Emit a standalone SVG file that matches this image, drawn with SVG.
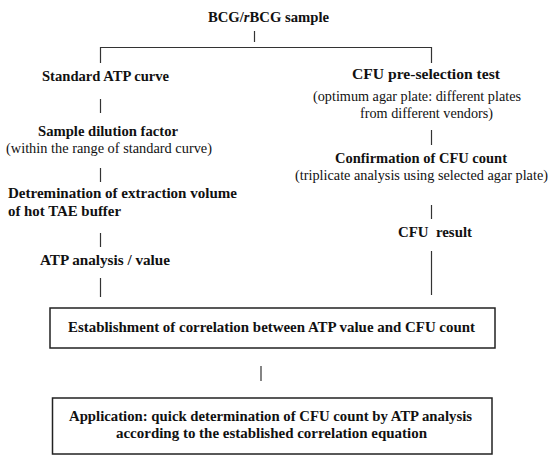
<svg xmlns="http://www.w3.org/2000/svg" width="550" height="463" viewBox="0 0 550 463">
<style>
text{font-family:"Liberation Serif","Times New Roman",serif;font-size:13.6px;fill:#111;}
.b{font-weight:bold;}
.c line,.c path{stroke:#333;stroke-width:1.2;fill:none;}
.box{fill:#fff;stroke:#222;stroke-width:1.5;}
</style>
<rect width="550" height="463" fill="#fff"/>
<g class="c" id="connectors">
<line x1="254.5" y1="31" x2="254.5" y2="42"/>
<path d="M100.5 63 V47.5 H431.5 V63"/>
<line x1="100.5" y1="99" x2="100.5" y2="113"/>
<line x1="100.5" y1="168" x2="100.5" y2="182"/>
<line x1="100.5" y1="233" x2="100.5" y2="247"/>
<line x1="100.5" y1="278" x2="100.5" y2="297"/>
<line x1="431.5" y1="130" x2="431.5" y2="145"/>
<line x1="431.5" y1="205" x2="431.5" y2="219"/>
<line x1="431.5" y1="251" x2="431.5" y2="295"/>
<line x1="261" y1="366" x2="261" y2="381"/>
</g>
<g id="sample"><text class="b" x="208" y="21.5" textLength="121" lengthAdjust="spacingAndGlyphs">BCG/<tspan font-style="italic">r</tspan>BCG sample</text></g>
<g id="standard-atp"><text class="b" x="42" y="81" textLength="127" lengthAdjust="spacingAndGlyphs">Standard ATP curve</text></g>
<g id="dilution">
<text class="b" x="38" y="136" textLength="140" lengthAdjust="spacingAndGlyphs">Sample dilution factor</text>
<text x="6" y="153" textLength="206" lengthAdjust="spacingAndGlyphs">(within the range of standard curve)</text>
</g>
<g id="extraction">
<text class="b" x="8" y="198" textLength="229" lengthAdjust="spacingAndGlyphs">Detremination of extraction volume</text>
<text class="b" x="8" y="216" textLength="113" lengthAdjust="spacingAndGlyphs">of hot TAE buffer</text>
</g>
<g id="atp-value"><text class="b" x="40" y="265" textLength="130" lengthAdjust="spacingAndGlyphs">ATP analysis / value</text></g>
<g id="cfu-preselection">
<text class="b" x="352" y="79" style="font-size:14.6px" textLength="148" lengthAdjust="spacingAndGlyphs">CFU pre-selection test</text>
<text x="313" y="101" textLength="208" lengthAdjust="spacingAndGlyphs">(optimum agar plate: different plates</text>
<text x="360" y="118" textLength="133" lengthAdjust="spacingAndGlyphs">from different vendors)</text>
</g>
<g id="cfu-confirmation">
<text class="b" x="335" y="163" textLength="172" lengthAdjust="spacingAndGlyphs">Confirmation of CFU count</text>
<text x="295" y="179.5" textLength="253" lengthAdjust="spacingAndGlyphs">(triplicate analysis using selected agar plate)</text>
</g>
<g id="cfu-result"><text class="b" x="398" y="237" textLength="74" lengthAdjust="spacingAndGlyphs" xml:space="preserve">CFU  result</text></g>
<g id="correlation">
<rect class="box" x="50" y="308" width="445" height="40"/>
<text class="b" x="68" y="332" textLength="407" lengthAdjust="spacingAndGlyphs">Establishment of correlation between ATP value and CFU count</text>
</g>
<g id="application">
<rect class="box" x="52.5" y="398" width="439.5" height="56"/>
<text class="b" x="69" y="421" textLength="403" lengthAdjust="spacingAndGlyphs">Application: quick determination of CFU count by ATP analysis</text>
<text class="b" x="116" y="438" textLength="311" lengthAdjust="spacingAndGlyphs">according to the established correlation equation</text>
</g>
</svg>
